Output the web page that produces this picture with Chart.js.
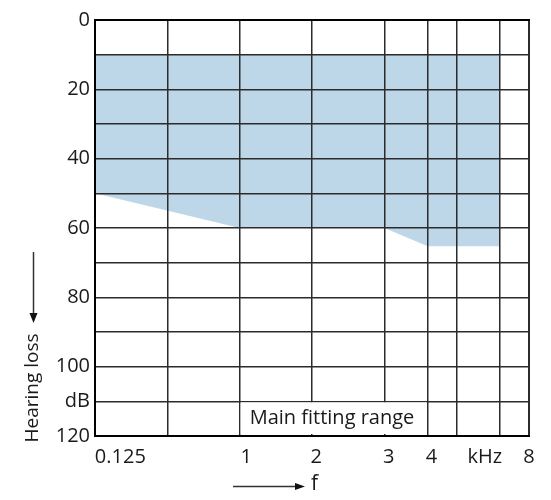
<!DOCTYPE html>
<html>
<head>
<meta charset="utf-8">
<script src="https://cdn.jsdelivr.net/npm/chart.js@4/dist/chart.umd.min.js"></script>
<style>
  body { margin: 0; background: #fff; }
  #wrap { width: 551px; height: 500px; }
</style>
</head>
<body>
<div id="wrap"><canvas id="myChart" width="551" height="500"></canvas></div>
<script>
// grid positions (schematic frequency axis, one unit per main column)
const xGridLines = [0, 1, 2, 3, 4, 4.6, 5, 5.6, 6];
const xTickPos = [0.35, 2.09, 3.06, 4.06, 4.65, 5.39, 6];
const xTickLabels = ['0.125', '1', '2', '3', '4', 'kHz', '8'];

const yTickValues = [0, 20, 40, 60, 80, 100, 110, 120];
const yTickLabels = ['0', '20', '40', '60', '80', '100', 'dB', '120'];

// main fitting range: upper and lower edge of the shaded area
const rangeTopX = [0, 5.6];
const rangeTopY = [10, 10];
const rangeBottomX = [0, 2, 4, 4.6, 5.6];
const rangeBottomY = [50, 60, 60, 65.3, 65.3];

const rangeLabel = 'Main fitting range';
const yTitle = 'Hearing loss';
const xTitle = 'f';

const FONT = '"Open Sans", "Noto Sans", sans-serif';
const gridColor = '#2b2b2b';

function toPoints(xs, ys) {
    return xs.map((x, i) => ({x: x, y: ys[i]}));
}

const data = {
    datasets: [
        {
            label: 'top',
            data: toPoints(rangeTopX, rangeTopY),
            showLine: true,
            borderWidth: 0,
            pointRadius: 0,
            fill: false
        },
        {
            label: rangeLabel,
            data: toPoints(rangeBottomX, rangeBottomY),
            showLine: true,
            borderWidth: 0,
            pointRadius: 0,
            backgroundColor: '#bed7e8',
            fill: '-1'
        }
    ]
};

// arrows, axis titles and the range caption
const decorations = {
    id: 'decorations',
    afterDraw(chart) {
        const ctx = chart.ctx;
        const xs = chart.scales.x;
        const ys = chart.scales.y;
        ctx.save();

        // caption box in the bottom row
        const bx0 = xs.getPixelForValue(2) + 1;
        const bx1 = xs.getPixelForValue(4.6) - 1;
        const by0 = ys.getPixelForValue(110) + 1;
        const by1 = ys.getPixelForValue(120) - 2;
        ctx.fillStyle = '#fff';
        ctx.fillRect(bx0, by0, bx1 - bx0, by1 - by0);
        ctx.fillStyle = '#1a1a1a';
        ctx.font = '20px ' + FONT;
        ctx.textAlign = 'left';
        ctx.textBaseline = 'middle';
        ctx.fillText(rangeLabel, xs.getPixelForValue(2) + 10, ys.getPixelForValue(115));

        // y title with arrow pointing down
        ctx.save();
        ctx.translate(33, 388);
        ctx.rotate(-Math.PI / 2);
        ctx.textAlign = 'center';
        ctx.font = '19px ' + FONT;
        ctx.fillText(yTitle, 0, 0);
        ctx.restore();

        ctx.strokeStyle = '#333';
        ctx.fillStyle = '#111';
        ctx.lineWidth = 1.5;
        ctx.beginPath();
        ctx.moveTo(33.5, 252);
        ctx.lineTo(33.5, 314);
        ctx.stroke();
        ctx.beginPath();
        ctx.moveTo(29.5, 313);
        ctx.lineTo(37.5, 313);
        ctx.lineTo(33.5, 323);
        ctx.closePath();
        ctx.fill();

        // x title with arrow pointing right
        ctx.beginPath();
        ctx.moveTo(233, 486.5);
        ctx.lineTo(296, 486.5);
        ctx.stroke();
        ctx.beginPath();
        ctx.moveTo(295, 483);
        ctx.lineTo(295, 490);
        ctx.lineTo(305, 486.5);
        ctx.closePath();
        ctx.fill();

        ctx.fillStyle = '#1a1a1a';
        ctx.textAlign = 'left';
        ctx.textBaseline = 'middle';
        ctx.font = '21px ' + FONT;
        ctx.fillText(xTitle, 311, 484);
        ctx.restore();
    }
};

const options = {
    responsive: false,
    animation: false,
    layout: {
        padding: {top: 20, right: 22, bottom: 0, left: 0}
    },
    plugins: {
        legend: {display: false},
        tooltip: {enabled: false}
    },
    scales: {
        x: {
            type: 'linear',
            position: 'top',
            min: 0,
            max: 6,
            afterBuildTicks: (scale) => {
                scale.ticks = xGridLines.map(v => ({value: v}));
            },
            afterFit: (scale) => { scale.height = 0; },
            ticks: {display: false},
            grid: {
                z: 1,
                color: gridColor,
                lineWidth: (c) => (c.tick && (c.tick.value === 0 || c.tick.value === 6)) ? 2 : 1.5,
                drawTicks: false
            },
            border: {display: true, color: '#000', width: 2, z: 2}
        },
        xLab: {
            type: 'linear',
            position: 'bottom',
            min: 0,
            max: 6,
            afterBuildTicks: (scale) => {
                scale.ticks = xTickPos.map(v => ({value: v}));
            },
            afterFit: (scale) => { scale.height = 64; },
            ticks: {
                color: '#1a1a1a',
                font: {family: FONT, size: 20},
                padding: 9,
                maxRotation: 0,
                autoSkip: false,
                callback: (v, i) => xTickLabels[i]
            },
            grid: {display: false, drawTicks: false},
            border: {display: true, color: '#000', width: 2, z: 2}
        },
        y: {
            type: 'linear',
            reverse: true,
            min: 0,
            max: 120,
            afterBuildTicks: (scale) => {
                const t = [];
                for (let v = 0; v <= 120; v += 10) t.push({value: v});
                scale.ticks = t;
            },
            afterFit: (scale) => { scale.width = 95; },
            ticks: {
                color: '#1a1a1a',
                font: {family: FONT, size: 20},
                padding: 5,
                autoSkip: false,
                callback: (v) => {
                    const i = yTickValues.indexOf(v);
                    return i >= 0 ? yTickLabels[i] : '';
                }
            },
            grid: {
                z: 1,
                color: gridColor,
                lineWidth: (c) => (c.tick && (c.tick.value === 0 || c.tick.value === 120)) ? 2 : 1.5,
                drawTicks: false
            },
            border: {display: true, color: '#000', width: 2, z: 2}
        }
    }
};

const myChart = new Chart(document.getElementById('myChart'), {
    type: 'scatter',
    data: data,
    options: options,
    plugins: [decorations]
});
</script>
</body>
</html>
